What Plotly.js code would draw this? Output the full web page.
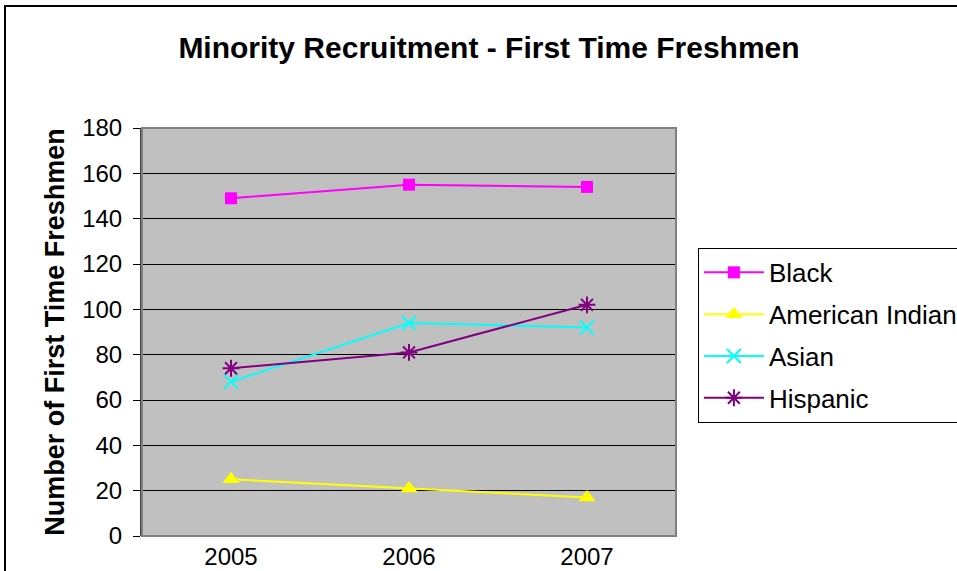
<!DOCTYPE html>
<html><head><meta charset="utf-8">
<script src="https://cdn.plot.ly/plotly-3.0.1.min.js"></script>
<style>
html,body{margin:0;padding:0;overflow:hidden;background:#fff;width:957px;height:571px;}
#frame{position:absolute;left:4px;top:5px;width:1000px;height:700px;border:2px solid #000;box-sizing:border-box;pointer-events:none;z-index:5;}
#chart{position:absolute;left:0;top:0;width:1000px;height:571px;}
</style></head>
<body>
<div id="chart"></div>
<div id="frame"></div>
<script>
const years = ['2005', '2006', '2007'];
const black = [149, 155, 154];
const americanIndian = [25, 21, 17];
const asian = [68, 94, 92];
const hispanic = [74, 81, 102];
const yTicks = [0, 20, 40, 60, 80, 100, 120, 140, 160, 180];

const font = 'Arial, "Liberation Sans", sans-serif';
function tr(name, y, color, symbol, size, group, open) {
  return {
    x: years, y: y, name: name, type: 'scatter', mode: 'lines+markers',
    legendgroup: group,
    line: {color: color, width: 2},
    marker: {symbol: symbol, size: size, color: color, line: {color: color, width: open ? 2 : 0}}
  };
}
const data = [
  tr('Black', black, '#FF00FF', 'square', 12, 'a', false),
  tr('American Indian', americanIndian, '#FFFF00', 'triangle-up', 15, 'b', false),
  tr('Asian', asian, '#00FFFF', 'x-thin-open', 14, 'c', true),
  tr('Hispanic', hispanic, '#800080', 'asterisk-open', 14, 'd', true)
];
const layout = {
  width: 1000, height: 571,
  margin: {l: 142, r: 324, t: 128, b: 35},
  paper_bgcolor: '#FFFFFF', plot_bgcolor: '#C0C0C0',
  showlegend: true,
  title: {text: '<b>Minority Recruitment - First Time Freshmen</b>', font: {family: font, size: 30, color: '#000'}, xref: 'container', x: 0.489, xanchor: 'center', y: 0.916, yanchor: 'middle'},
  xaxis: {type: 'category', range: [-0.5, 2.5], showgrid: false, zeroline: false,
    ticks: '', ticklabelstandoff: 4, tickfont: {family: font, size: 24, color: '#000'}, showline: false, fixedrange: true},
  yaxis: {range: [0, 180], tickvals: yTicks, ticktext: yTicks.map(String), showgrid: true, gridcolor: '#000', gridwidth: 1,
    zeroline: false, ticks: 'outside', ticklen: 7, tickcolor: '#000', tickwidth: 1, ticklabelstandoff: 6,
    showline: true, linecolor: '#404040', linewidth: 2,
    tickfont: {family: font, size: 24, color: '#000'},
    title: {text: '<b>Number of First Time Freshmen</b>', font: {family: font, size: 27, color: '#000'}, standoff: 10}},
  legend: {x: 1.041, y: 0.706, xanchor: 'left', yanchor: 'top', bordercolor: '#000', borderwidth: 1,
    bgcolor: '#FFFFFF', font: {family: font, size: 26, color: '#000'}, tracegroupgap: 5, itemwidth: 60},
  shapes: [{type: 'rect', xref: 'paper', yref: 'paper', x0: 0, x1: 1, y0: 0, y1: 1, line: {color: '#808080', width: 2}, layer: 'above'}]
};
Plotly.newPlot('chart', data, layout, {displayModeBar: false, staticPlot: true});
</script>
</body></html>
